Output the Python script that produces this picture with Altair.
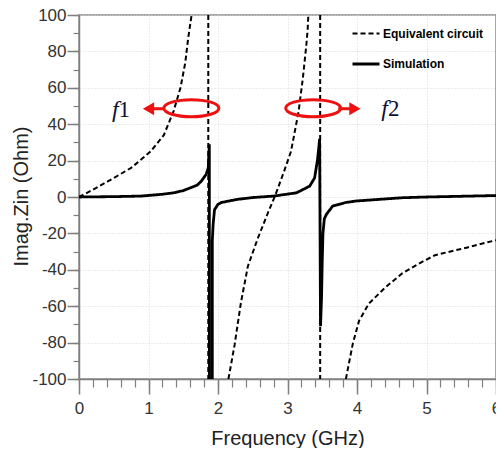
import altair as alt
import pandas as pd

# ---- Equivalent circuit (dashed), branches split at the two poles ----
eq_seg = ["a"] * 11 + ["p1"] * 2 + ["b"] * 14 + ["p2"] * 2 + ["c"] * 10
eq_freq = [0.0, 0.20, 0.42, 0.75, 1.03, 1.22, 1.36, 1.46, 1.53, 1.57, 1.62,
           1.86, 1.86,
           2.15, 2.24, 2.33, 2.43, 2.57, 2.71, 2.83, 2.95, 3.05, 3.16, 3.22, 3.27, 3.29, 3.30,
           3.47, 3.47,
           3.84, 3.94, 4.03, 4.17, 4.41, 4.65, 4.88, 5.12, 5.59, 6.0]
eq_val = [0.0, 4.0, 8.7, 16.0, 25.0, 34.0, 47.0, 60.0, 74.0, 87.0, 100.0,
          100.0, -100.0,
          -100.0, -81.0, -58.0, -38.0, -23.0, -9.5, 1.5, 14.0, 25.0, 47.0, 65.0, 83.0, 92.0, 100.0,
          100.0, -100.0,
          -100.0, -80.5, -68.0, -58.6, -49.6, -42.0, -36.8, -32.0, -27.7, -23.7]

# ---- Simulation (solid) ----
sim_freq = [0.0, 0.5, 0.89, 1.2, 1.36, 1.5, 1.6, 1.7, 1.76, 1.83, 1.86, 1.875, 1.877,
            1.918, 1.918, 1.93, 1.95, 2.0, 2.05, 2.28, 2.5, 2.8, 3.13, 3.32, 3.39, 3.43, 3.45,
            3.462, 3.475, 3.49, 3.50, 3.51, 3.53, 3.56, 3.65, 3.84, 3.99, 4.65, 5.0, 6.0]
sim_val = [0.0, 0.2, 0.5, 1.5, 2.3, 3.5, 5.0, 6.5, 8.7, 12.5, 16.0, 29.0, -100.0,
           -100.0, -24.0, -15.0, -7.0, -4.0, -3.0, -1.3, -0.3, 0.5, 2.3, 6.0, 10.5, 20.0, 27.0,
           32.0, -71.0, -55.0, -35.0, -20.0, -12.0, -9.5, -5.0, -3.0, -2.2, -0.4, 0.0, 0.8]

series_names = ["Equivalent circuit", "Simulation"]

x_major = [0, 1, 2, 3, 4, 5, 6]
x_minor = [0, 0.2, 0.4, 0.6, 0.8, 1, 1.2, 1.4, 1.6, 1.8, 2, 2.2, 2.4, 2.6, 2.8, 3,
           3.2, 3.4, 3.6, 3.8, 4, 4.2, 4.4, 4.6, 4.8, 5, 5.2, 5.4, 5.6, 5.8, 6]
y_major = [-100, -80, -60, -40, -20, 0, 20, 40, 60, 80, 100]
y_minor = [-100, -90, -80, -70, -60, -50, -40, -30, -20, -10, 0,
           10, 20, 30, 40, 50, 60, 70, 80, 90, 100]

# annotations (data coordinates)
ell_x = [1.617, 3.37]
ell_y = [48.8, 48.8]
arrow_x = [1.22, 3.73]
arrow_x2 = [1.00, 3.97]
arrow_y = [48.5, 48.5]
arrow_shape = ["triangle-left", "triangle-right"]
lab_x = [0.555, 4.43]
lab_y = [48.0, 48.3]
lab_f = ["f", "f"]
lab_n = ["1", "2"]

eq_df = pd.DataFrame({"freq": eq_freq, "val": eq_val, "seg": eq_seg,
                      "series": series_names[0]})
sim_df = pd.DataFrame({"freq": sim_freq, "val": sim_val, "series": series_names[1]})
ell_df = pd.DataFrame({"x": ell_x, "y": ell_y})
arr_df = pd.DataFrame({"x": arrow_x, "x2": arrow_x2, "y": arrow_y, "shape": arrow_shape})
lab_df = pd.DataFrame({"x": lab_x, "y": lab_y, "f": lab_f, "n": lab_n})

NARROW = "Liberation Sans Narrow, Liberation Sans, Arial, sans-serif"
AX = "#7f7f7f"

xs = alt.Scale(domain=[0, 6], nice=False, zero=False)
ys = alt.Scale(domain=[-100, 100], nice=False, zero=False)
dash_s = alt.Scale(domain=series_names, range=[[5, 3], [1, 0]])
width_s = alt.Scale(domain=series_names, range=[2.0, 2.8])

legend = alt.Legend(title=None, orient="none", legendX=272, legendY=4,
                    symbolType="stroke", symbolSize=729, symbolStrokeColor="black",
                    labelFont=NARROW, labelFontSize=12, labelFontWeight="bold",
                    labelColor="black", labelOffset=2, rowPadding=9, padding=0)

x_major_axis = alt.Axis(orient="bottom", values=x_major, tickSize=15, tickColor=AX,
                        tickWidth=1.5, domainColor=AX, domainWidth=1.5,
                        grid=True, gridColor="#d8d8d8", gridDash=[1, 2], gridWidth=1,
                        labelFont=NARROW, labelFontSize=17, labelColor="#333333",
                        labelPadding=6, labelFlush=False, labelOverlap=False,
                        title="Frequency (GHz)", titleFont=NARROW,
                        titleFontSize=20, titleFontWeight="normal", titleColor="#222222",
                        titleY=65, titleBaseline="alphabetic", labelExpr="datum.value + ''")
x_minor_axis = alt.Axis(orient="bottom", values=x_minor, tickSize=8, tickColor=AX,
                        tickWidth=1.2, domain=False, grid=False, labels=False, title=None)
y_major_axis = alt.Axis(orient="left", values=y_major, tickSize=12, tickColor=AX,
                        tickWidth=1.5, domainColor=AX, domainWidth=1.5,
                        grid=True, gridColor="#d8d8d8", gridDash=[1, 2], gridWidth=1,
                        labelFont=NARROW, labelFontSize=17, labelColor="#333333",
                        labelPadding=1, labelFlush=False, labelOverlap=False,
                        title="Imag.Zin (Ohm)",
                        titleFont="Liberation Sans, Arial, sans-serif", titleFontSize=20,
                        titleFontWeight="normal", titleColor="#222222",
                        titleAngle=270, titleX=-58, titleY=181, titleAlign="center",
                        titleBaseline="middle", labelExpr="datum.value + ''")
y_minor_axis = alt.Axis(orient="left", values=y_minor, tickSize=6, tickColor=AX,
                        tickWidth=1.2, domain=False, grid=False, labels=False, title=None)

sim_layer = alt.Chart(sim_df).mark_line(color="black", clip=True).encode(
    x=alt.X("freq:Q", scale=xs, axis=x_major_axis),
    y=alt.Y("val:Q", scale=ys, axis=y_major_axis),
    strokeDash=alt.StrokeDash("series:N", scale=dash_s, legend=legend),
    strokeWidth=alt.StrokeWidth("series:N", scale=width_s, legend=legend),
    order="freq:Q",
)

eq_layer = alt.Chart(eq_df).mark_line(color="black", clip=True).encode(
    x=alt.X("freq:Q", scale=xs, axis=x_minor_axis),
    y=alt.Y("val:Q", scale=ys, axis=y_minor_axis),
    detail="seg:N",
    strokeDash=alt.StrokeDash("series:N", scale=dash_s, legend=legend),
    strokeWidth=alt.StrokeWidth("series:N", scale=width_s, legend=legend),
)

ellipse_path = "M-1,0A1,0.31,0,1,1,1,0A1,0.31,0,1,1,-1,0Z"
ell_layer = alt.Chart(ell_df).mark_point(shape=ellipse_path, size=3025, filled=False,
                                         stroke="#ee1111", strokeWidth=3, opacity=1).encode(
    x=alt.X("x:Q", scale=xs, axis=None),
    y=alt.Y("y:Q", scale=ys, axis=None),
)

rule_layer = alt.Chart(arr_df).mark_rule(color="#ee1111", strokeWidth=3).encode(
    x=alt.X("x:Q", scale=xs, axis=None),
    x2="x2:Q",
    y=alt.Y("y:Q", scale=ys, axis=None),
)

head_layer = alt.Chart(arr_df).mark_point(filled=True, color="#ee1111", size=170,
                                          opacity=1).encode(
    x=alt.X("x2:Q", scale=xs, axis=None),
    y=alt.Y("y:Q", scale=ys, axis=None),
    shape=alt.Shape("shape:N", scale=None, legend=None),
)

f_layer = alt.Chart(lab_df).mark_text(font="Liberation Serif, serif", fontSize=24,
                                      fontStyle="italic", color="#111133",
                                      align="right", baseline="middle", dx=1).encode(
    x=alt.X("x:Q", scale=xs, axis=None),
    y=alt.Y("y:Q", scale=ys, axis=None),
    text="f:N",
)
n_layer = alt.Chart(lab_df).mark_text(font="Liberation Serif, serif", fontSize=23,
                                      color="#111133", align="left",
                                      baseline="middle", dx=1).encode(
    x=alt.X("x:Q", scale=xs, axis=None),
    y=alt.Y("y:Q", scale=ys, axis=None),
    text="n:N",
)

chart = alt.layer(eq_layer, sim_layer, ell_layer, rule_layer, head_layer,
                  f_layer, n_layer).resolve_axis(
    x="independent", y="independent"
).properties(
    width=417, height=364,
    autosize=alt.AutoSizeParams(type="none"),
    padding={"left": 71, "top": 7, "right": 0, "bottom": 69},
).configure_view(stroke="#8c8c8c", strokeWidth=1.5)

chart.save("out.html", embed_options={"renderer": "svg", "actions": False})
